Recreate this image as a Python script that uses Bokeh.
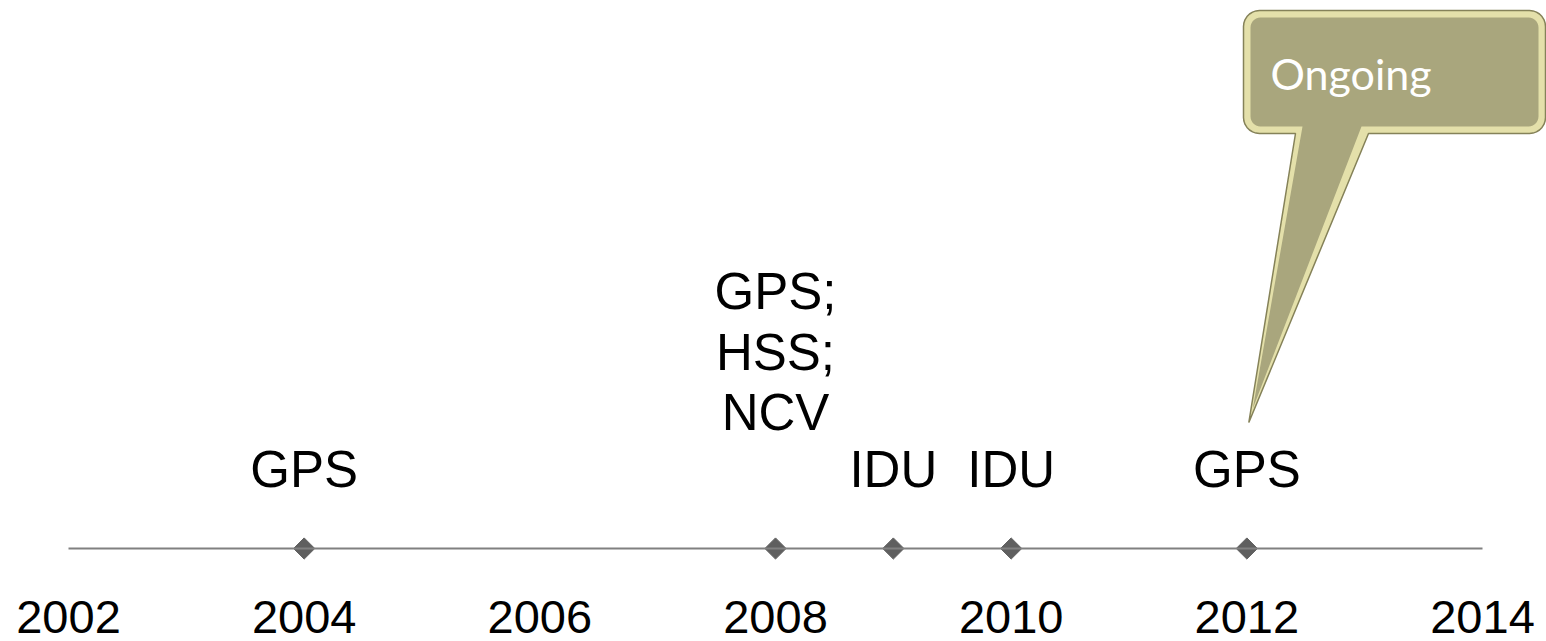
import numpy as np
from bokeh.plotting import figure
from bokeh.models import Range1d, LinearAxis, FixedTicker, ColumnDataSource
from bokeh.core.properties import value
from bokeh.embed import file_html
from bokeh.resources import INLINE

# ---------------- data ----------------
tick_years = [2002, 2004, 2006, 2008, 2010, 2012, 2014]
event_years = [2004, 2008, 2009, 2010, 2012]
event_labels = ["GPS", "GPS;\nHSS;\nNCV", "IDU", "IDU", "GPS"]
callout_text = "Ongoing"
callout_year = 2012

# ---------------- layout ----------------
W, H = 1546, 641
LINE_PX_LEFT, LINE_PX_RIGHT = 68, 1482      # x of first/last tick
LINE_PY = 548                                # y of the timeline
ppy = (LINE_PX_RIGHT - LINE_PX_LEFT) / (tick_years[-1] - tick_years[0])

def X(px):
    return tick_years[0] + (px - LINE_PX_LEFT) / ppy

def Y(py):
    return LINE_PY - py

p = figure(width=W, height=H, output_backend="svg", toolbar_location=None,
           x_axis_type=None, y_axis_type=None,
           x_range=Range1d(X(0), X(W)),
           y_range=Range1d(Y(H), Y(0)),
           min_border=0, min_border_left=0, min_border_right=0,
           min_border_top=0, min_border_bottom=0)
p.outline_line_color = None
p.background_fill_color = "white"
p.border_fill_color = "white"

# timeline axis
ax = LinearAxis(fixed_location=0, bounds=(tick_years[0], tick_years[-1]),
                ticker=FixedTicker(ticks=tick_years))
ax.axis_line_color = "#808080"
ax.axis_line_width = 2
ax.major_tick_line_color = None
ax.minor_tick_line_color = None
ax.major_label_text_font = "Liberation Sans"
ax.major_label_text_font_size = "47px"
ax.major_label_text_color = "black"
ax.major_label_standoff = 46
p.add_layout(ax, "below")

# event markers
src = ColumnDataSource(dict(x=event_years, y=[0] * len(event_years), label=event_labels))
p.scatter("x", "y", source=src, marker="square", size=15, angle=np.pi / 4,
          fill_color="#5f5f5f", line_color="#5f5f5f")

# event labels
base_raise = 51
extra = [56 if "\n" in s else 0 for s in event_labels]
lab = ColumnDataSource(dict(x=event_years, y=[base_raise + e for e in extra], text=event_labels))
p.text("x", "y", text="text", source=lab, text_align="center", text_baseline="bottom",
       text_font=value("Liberation Sans"), text_font_size="51px", text_color="black",
       text_line_height=1.07)

# ---------------- callout ----------------
def rounded_with_tail(x0, y0, x1, y1, r, tail):
    pts = []
    def arc(cx, cy, a0, a1):
        for a in np.linspace(a0, a1, 8):
            pts.append((cx + r * np.cos(a), cy + r * np.sin(a)))
    arc(x0 + r, y0 + r, np.pi, 1.5 * np.pi)          # top-left
    arc(x1 - r, y0 + r, 1.5 * np.pi, 2 * np.pi)      # top-right
    arc(x1 - r, y1 - r, 0, 0.5 * np.pi)              # bottom-right
    pts.extend(tail)                                  # bottom edge, right->left
    arc(x0 + r, y1 - r, 0.5 * np.pi, np.pi)          # bottom-left
    xs = [X(a) for a, b in pts]
    ys = [Y(b) for a, b in pts]
    return xs, ys

tip_px = LINE_PX_LEFT + (callout_year - tick_years[0]) * ppy
ox, oy = rounded_with_tail(1243, 10, 1545, 133, 16,
                           [(1368, 133), (tip_px + 2, 422), (1295, 133)])
p.patch(ox, oy, fill_color="#e4e0aa", line_color="#858259", line_width=1.5)
ix, iy = rounded_with_tail(1250, 17, 1538, 126, 10,
                           [(1361, 126), (tip_px + 6, 408), (1302, 126)])
p.patch(ix, iy, fill_color="#a9a67d", line_color=None)

p.text([X(1270)], [Y(73)], text=[callout_text], text_align="left",
       text_baseline="alphabetic", text_font=value("Lato"), text_font_size="43px",
       text_color="white")

open("out.html", "w").write(file_html(p, INLINE))
